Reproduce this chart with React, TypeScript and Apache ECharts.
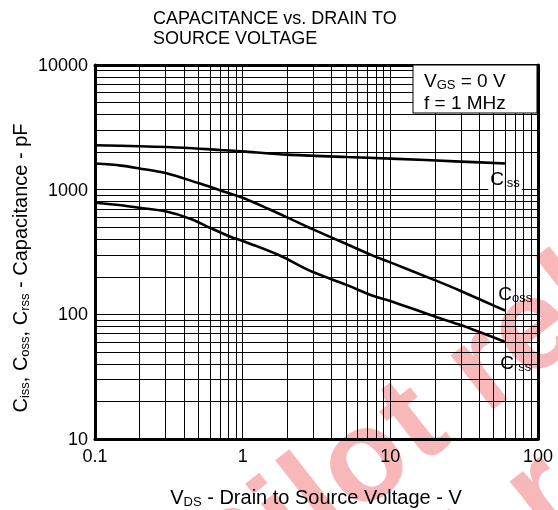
import React, { useEffect, useRef } from 'react';
import * as echarts from 'echarts';

const titleLines = ['CAPACITANCE vs. DRAIN TO', 'SOURCE VOLTAGE'];
const xTickLabels = ['0.1', '1', '10', '100'];
const yTickLabels = ['10', '100', '1000', '10000'];
const xMinorGrid = [0.2, 0.3, 0.4, 0.5, 0.6, 0.7, 0.8, 0.9, 2, 3, 4, 5, 6, 7, 8, 9, 20, 30, 40, 50, 60, 70, 80, 90];
const yMinorGrid = [20, 30, 40, 50, 60, 70, 80, 90, 200, 300, 400, 500, 600, 700, 800, 900, 2000, 3000, 4000, 5000, 6000, 7000, 8000, 9000];

// [VDS (V), C (pF)]
const cissData = [[0.1, 2270], [0.2, 2230], [0.4, 2170], [0.7, 2080], [1, 2030], [2, 1910], [5, 1830], [10, 1775], [30, 1680], [60, 1620]];
const cossData = [[0.1, 1620], [0.15, 1560], [0.2, 1480], [0.3, 1360], [0.5, 1130], [0.7, 990], [1, 860], [1.5, 700], [2, 600], [3, 480], [5, 368], [7.6, 296], [10, 261], [20, 188], [30, 154], [60, 107]];
const crssData = [[0.1, 785], [0.15, 750], [0.2, 716], [0.3, 670], [0.45, 580], [0.6, 495], [0.85, 413], [1, 388], [1.8, 295], [2.84, 224], [5, 173], [7.6, 141], [10, 128], [20, 96], [30, 82], [60, 60]];

const watermarkText = 'Pilot release';
const FONT = '"Liberation Sans", Arial, Helvetica, sans-serif';

const subRich = (size: number, sub: number, drop: number) => ({
  c: { fontSize: size, fontFamily: FONT, color: '#000' },
  s: { fontSize: sub, fontFamily: FONT, color: '#000', padding: [drop, 0, 0, 0] },
});

const WM_SIZE = 130;
const wmLine = (x: number, y: number) => (
  <div
    style={{
      position: 'absolute', left: x, top: y, width: 0, height: 0,
      transformOrigin: '0 0', transform: 'rotate(-38deg)',
    }}
  >
    <div
      style={{
        position: 'absolute', left: 0, top: -0.3465 * WM_SIZE, lineHeight: 0, whiteSpace: 'nowrap',
        font: `bold ${WM_SIZE}px ${FONT}`, letterSpacing: 2, color: '#f8b8ba',
      }}
    >
      {watermarkText}
    </div>
  </div>
);

const frameAxis = { show: true, lineStyle: { color: '#000', width: 3 } };

export default function App() {
  const ref = useRef<HTMLDivElement>(null);
  useEffect(() => {
    if (!ref.current) return;
    const chart = echarts.init(ref.current, null, { renderer: 'svg' });
    const lineStyle = { color: '#000', width: 2.6 };
    const labelBase = {
      show: true,
      distance: 0,
      align: 'left',
      verticalAlign: 'middle',
      backgroundColor: '#fff',
      padding: [1, 2, 1, 2],
      rich: subRich(19, 13, 8),
    };
    chart.setOption({
      animation: false,
      textStyle: { fontFamily: FONT },
      title: {
        text: titleLines.join('\n'),
        left: 148,
        top: 3,
        textStyle: { fontSize: 18, fontWeight: 'normal', color: '#000', lineHeight: 20, fontFamily: FONT },
      },
      grid: { left: 95, right: 20, top: 65, bottom: 71, show: false },
      xAxis: [
        {
          type: 'log',
          logBase: 10,
          min: 0.1,
          max: 100,
          axisLine: frameAxis,
          axisTick: { show: false },
          axisLabel: {
            color: '#000', fontSize: 18, margin: 8, fontFamily: FONT,
            formatter: (v: number) => xTickLabels[Math.round(Math.log10(v)) + 1] ?? '',
          },
          splitLine: { show: true, lineStyle: { color: '#000', width: 1 } },
        },
        {
          type: 'log', logBase: 10, min: 0.1, max: 100, position: 'top',
          axisLine: frameAxis, axisTick: { show: false }, axisLabel: { show: false }, splitLine: { show: false },
        },
      ],
      yAxis: [
        {
          type: 'log',
          logBase: 10,
          min: 10,
          max: 10000,
          axisLine: frameAxis,
          axisTick: { show: false },
          axisLabel: {
            color: '#000', fontSize: 18, margin: 7, fontFamily: FONT,
            formatter: (v: number) => yTickLabels[Math.round(Math.log10(v)) - 1] ?? '',
          },
          splitLine: { show: true, lineStyle: { color: '#000', width: 1 } },
        },
        {
          type: 'log', logBase: 10, min: 10, max: 10000, position: 'right',
          axisLine: frameAxis, axisTick: { show: false }, axisLabel: { show: false }, splitLine: { show: false },
        },
      ],
      series: [
        {
          type: 'line',
          data: [[0.1, 10]],
          symbol: 'none',
          lineStyle: { width: 0 },
          silent: true,
          z: 1,
          markLine: {
            silent: true,
            symbol: ['none', 'none'],
            label: { show: false },
            lineStyle: { color: '#000', width: 1, type: 'solid' },
            data: [
              ...xMinorGrid.map((v) => ({ xAxis: v })),
              ...yMinorGrid.map((v) => ({ yAxis: v })),
            ],
          },
        },
        {
          name: 'Ciss', type: 'line', data: cissData, symbol: 'none', smooth: 0.3, lineStyle, z: 3,
          endLabel: { ...labelBase, formatter: '{c|C}{s|iss}', offset: [-17, 15] },
        },
        {
          name: 'Coss', type: 'line', data: cossData, symbol: 'none', smooth: 0.3, lineStyle, z: 3,
          endLabel: { ...labelBase, formatter: '{c|C}{s|oss}', offset: [-9, -17] },
        },
        {
          name: 'Crss', type: 'line', data: crssData, symbol: 'none', smooth: 0.3, lineStyle, z: 3,
          endLabel: { ...labelBase, formatter: '{c|C}{s|rss}', offset: [-7, 21] },
        },
      ],
      graphic: [
        {
          type: 'rect', z: 100, shape: { x: 413, y: 65, width: 124, height: 48 },
          style: { fill: '#fff', stroke: '#000', lineWidth: 1 },
        },
        {
          type: 'text', z: 101, x: 424, y: 80,
          style: {
            text: '{c|V}{s|GS}{c| = 0 V}', textVerticalAlign: 'middle',
            rich: subRich(19, 13, 8),
          },
        },
        {
          type: 'text', z: 101, x: 424, y: 102,
          style: { text: 'f = 1 MHz', font: `19px ${FONT}`, fill: '#000', textVerticalAlign: 'middle' },
        },
        {
          type: 'text', z: 101, x: 316, y: 497,
          style: {
            text: '{c|V}{s|DS}{c| - Drain to Source Voltage - V}', textAlign: 'center', textVerticalAlign: 'middle',
            rich: subRich(20, 13, 8),
          },
        },
        {
          type: 'text', z: 101, x: 20, y: 268, rotation: Math.PI / 2,
          style: {
            text: '{c|C}{s|iss}{c|, C}{s|oss}{c|, C}{s|rss}{c| - Capacitance - pF}', textAlign: 'center', textVerticalAlign: 'middle',
            rich: subRich(20, 13, 8),
          },
        },
      ],
    });
    return () => chart.dispose();
  }, []);
  return (
    <div style={{ position: 'fixed', left: 0, top: 0, width: 558, height: 510, overflow: 'hidden', background: '#fff' }}>
      <div ref={ref} style={{ position: 'absolute', left: 0, top: 0, width: 558, height: 510 }} />
      <div style={{ position: 'absolute', left: 0, top: 0, width: 558, height: 510, mixBlendMode: 'multiply', pointerEvents: 'none' }}>
        {wmLine(180, 559)}
        {wmLine(239, 685)}
      </div>
    </div>
  );
}
